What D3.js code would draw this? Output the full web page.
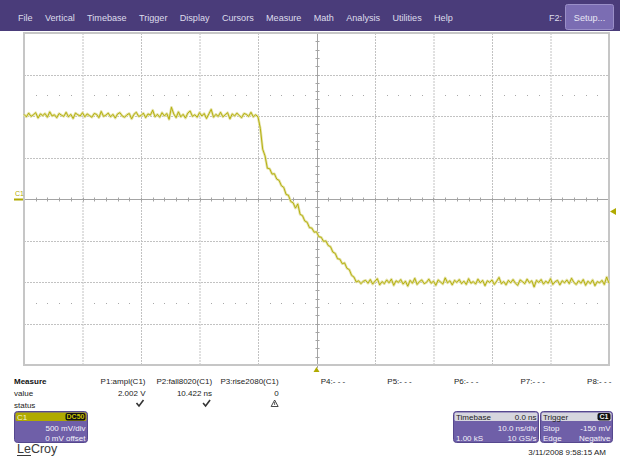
<!DOCTYPE html>
<html><head><meta charset="utf-8">
<script src="https://cdn.jsdelivr.net/npm/d3@7"></script>
<style>
body{margin:0;background:#fff;}
svg{display:block;font-family:"Liberation Sans",Arial,sans-serif;}
</style>
</head><body><svg id="c" width="620" height="462"></svg>
<script>
// ---------------- data ----------------
const menuItems = ["File","Vertical","Timebase","Trigger","Display","Cursors","Measure","Math","Analysis","Utilities","Help"];
const nsPerDiv = 10;          // timebase
const mVPerDiv = 500;         // C1 vertical scale
const tStart = -50;           // ns, first sample
const tStep = 0.4;            // ns between plotted samples
const triggerLevelMV = -150;
const triggerTimeNs = 0;
// C1 trace (mV)
const traceMV = [
 1020,990,1035,995,1015,1040,975,1025,1005,1030,985,1050,1000,1015,980,1030,1010,995,1045,990,
 1020,970,1035,1015,1000,1040,990,1025,1005,985,1030,1020,980,1055,995,1010,1035,990,1020,975,
 1025,1040,1000,985,1015,1030,965,1020,1045,995,1005,1035,980,1025,1010,1070,990,1020,985,1040,
 1000,1030,960,1105,1025,980,1050,990,1020,975,1035,1060,995,1015,985,1040,1000,1030,970,1025,
 1080,985,1020,995,1045,990,1015,1040,965,1025,1000,1035,1005,980,1030,1020,995,1045,990,1015,
 990,850,600,520,370,365,300,305,240,225,160,140,55,45,-30,-45,-110,-60,-185,-200,
 -265,-280,-345,-350,-400,-395,-455,-460,-510,-505,-560,-575,-640,-655,-720,-725,-780,-770,-835,-850,
 -920,-940,-1000,-985,-1020,-990,
 -980,-1015,-970,-1025,-990,-960,-1035,-995,-1020,-975,-1010,-965,-1040,-985,-1005,-970,-1025,-990,-1050,-980,
 -1015,-955,-1030,-995,-975,-1020,-1005,-965,-1015,-990,-1040,-975,-1000,-1025,-950,-1010,-985,-1035,-980,-1005,
 -970,-1020,-990,-1030,-960,-1015,-995,-1025,-965,-1010,-980,-1045,-985,-1005,-975,-1030,-990,-945,-1020,-995,
 -1035,-980,-1010,-970,-1015,-1040,-975,-995,-1020,-965,-1010,-985,-1060,-980,-1005,-970,-1025,-990,-1015,-960,
 -1030,-995,-980,-1035,-985,-1010,-975,-1020,-955,-1005,-1030,-985,-1015,-970,-1040,-990,-1020,-975,-1045,-995,
 -1010,-980,-1030,-940,-1015
];
const measureNames = ["P1:ampl(C1)","P2:fall8020(C1)","P3:rise2080(C1)","P4:- - -","P5:- - -","P6:- - -","P7:- - -","P8:- - -"];
const measureValues = ["2.002 V","10.422 ns","0","","","","",""];
const measureStatus = ["ok","ok","warn","","","","",""];
const channelLines = ["500 mV/div","0 mV offset"];
const timebaseRows = [["Timebase","0.0 ns"],["","10.0 ns/div"],["1.00 kS","10 GS/s"]];
const triggerRows = [["Trigger",""],["Stop","-150 mV"],["Edge","Negative"]];
const dateText = "3/11/2008 9:58:15 AM";

// ---------------- drawing ----------------
const svg = d3.select("#c");
const OLIVE = "#b0aa00", PURPLE = "#6f5fa8", BAR = "#4a3c7a";

// menu bar
svg.append("rect").attr("x",0).attr("y",0).attr("width",620).attr("height",31).attr("fill",BAR);
let mx = 18;
menuItems.forEach(m=>{
  const t = svg.append("text").attr("x",mx).attr("y",21).attr("font-size",9.1).attr("fill","#dedcec").text(m);
  mx += t.node().getComputedTextLength() + 12.3;
});
svg.append("text").attr("x",549).attr("y",21).attr("font-size",9.1).attr("fill","#dedcec").text("F2:");
svg.append("rect").attr("x",565.5).attr("y",4.5).attr("width",48).attr("height",25).attr("rx",2)
  .attr("fill","#7b6db3").attr("stroke","#9a8fc8");
svg.append("text").attr("x",589.5).attr("y",21).attr("font-size",9.1).attr("text-anchor","middle").attr("fill","#e8e6f4").text("Setup...");

// scope grid
const L=24,R=609,T=33,B=365;
const x = d3.scaleLinear().domain([-5*nsPerDiv,5*nsPerDiv]).range([L,R]);
const y = d3.scaleLinear().domain([-4*mVPerDiv,4*mVPerDiv]).range([B,T]);
const g = svg.append("g");

const xDivs = d3.range(-4,5).map(d=>d*nsPerDiv).filter(d=>d!==0);
const yDivs = d3.range(-3,4).map(d=>d*mVPerDiv).filter(d=>d!==0);
g.selectAll(".vg").data(xDivs).join("line").attr("x1",d=>x(d)+0.5).attr("x2",d=>x(d)+0.5)
  .attr("y1",T).attr("y2",B).attr("stroke","#c2c2c2").attr("stroke-dasharray","2,1");
g.selectAll(".hg").data(yDivs).join("line").attr("y1",d=>Math.round(y(d))+0.5).attr("y2",d=>Math.round(y(d))+0.5)
  .attr("x1",L).attr("x2",R).attr("stroke","#c2c2c2").attr("stroke-dasharray","2,1");

// dot rows at +/-2.5 div
const dotX = d3.range(-50,50.001,nsPerDiv/5).filter(d=>Math.abs(d%nsPerDiv)>1e-6);
[2.5,-2.5].forEach(k=>{
  g.selectAll(null).data(dotX).join("rect").attr("x",d=>Math.round(x(d))).attr("y",Math.round(y(k*mVPerDiv)))
   .attr("width",1).attr("height",1).attr("fill","#a8a8a8");
});

// center axes
const cx = Math.round(x(0))+0.5, cy = Math.round(y(0))+0.5;
g.append("line").attr("x1",cx).attr("x2",cx).attr("y1",T).attr("y2",B+3).attr("stroke","#a4a4a4");
g.append("line").attr("x1",L).attr("x2",R).attr("y1",cy).attr("y2",cy).attr("stroke","#a4a4a4");
const xt = d3.range(-50,50.001,nsPerDiv/5);
g.selectAll(null).data(xt).join("line").attr("x1",d=>Math.round(x(d))+0.5).attr("x2",d=>Math.round(x(d))+0.5)
  .attr("y1",cy-2).attr("y2",cy+2).attr("stroke","#a4a4a4");
const yt = d3.range(-2000,2000.1,mVPerDiv/5);
g.selectAll(null).data(yt).join("line").attr("y1",d=>Math.round(y(d))+0.5).attr("y2",d=>Math.round(y(d))+0.5)
  .attr("x1",cx-2).attr("x2",cx+2).attr("stroke","#a4a4a4");

// frame
g.append("rect").attr("x",L).attr("y",T).attr("width",R-L).attr("height",B-T)
  .attr("fill","none").attr("stroke","#c6c6c6").attr("stroke-width",2);

// trace
const line = d3.line().x((d,i)=>x(tStart+i*tStep)).y(d=>y(d));
g.append("path").attr("d",line(traceMV)).attr("fill","none").attr("stroke","#e4e2a8").attr("stroke-width",2.6).attr("stroke-linejoin","round");
g.append("path").attr("d",line(traceMV)).attr("fill","none").attr("stroke",OLIVE).attr("stroke-width",0.9).attr("stroke-linejoin","miter");

// channel marker left
g.append("rect").attr("x",14).attr("y",y(0)-0.5).attr("width",9).attr("height",2).attr("fill",OLIVE);
g.append("text").attr("x",15).attr("y",y(0)-3).attr("font-size",7).attr("fill",OLIVE).text("C1");
// trigger level marker right
const ty = y(triggerLevelMV);
g.append("path").attr("d",`M${R+1},${ty} L${R+7},${ty-3.5} L${R+7},${ty+3.5}Z`).attr("fill",OLIVE);
// trigger time marker bottom
const tx = x(triggerTimeNs);
g.append("path").attr("d",`M${tx},${B+2} L${tx-3},${B+7} L${tx+3},${B+7}Z`).attr("fill",OLIVE);

// measure panel
const fs = 8;
svg.append("text").attr("x",14).attr("y",384).attr("font-size",fs).attr("font-weight","bold").attr("fill","#111").text("Measure");
svg.append("text").attr("x",14).attr("y",396).attr("font-size",fs).attr("fill","#222").text("value");
svg.append("text").attr("x",14).attr("y",407.5).attr("font-size",fs).attr("fill","#222").text("status");
const colX = d3.scaleLinear().domain([0,7]).range([145.5,611.5]);
measureNames.forEach((n,i)=>{
  svg.append("text").attr("x",colX(i)).attr("y",384).attr("font-size",fs).attr("text-anchor","end").attr("fill","#222").text(n);
  if(measureValues[i]) svg.append("text").attr("x",colX(i)).attr("y",396).attr("font-size",fs).attr("text-anchor","end").attr("fill","#222").text(measureValues[i]);
  const sx = colX(i)-5;
  if(measureStatus[i]==="ok"){
    svg.append("path").attr("d",`M${sx-4},${403} L${sx-1.5},${406} L${sx+3},${400}`).attr("fill","none").attr("stroke","#333").attr("stroke-width",1.6);
  } else if(measureStatus[i]==="warn"){
    svg.append("path").attr("d",`M${sx+1},${400} L${sx+4.5},${406.5} L${sx-2.5},${406.5}Z`).attr("fill","none").attr("stroke","#333").attr("stroke-width",0.9);
    svg.append("line").attr("x1",sx+1).attr("x2",sx+1).attr("y1",402).attr("y2",405).attr("stroke","#333").attr("stroke-width",0.8);
  }
});

// helper for info boxes
function box(x0,w,headerFill,rows,headerText){
  const gg = svg.append("g");
  gg.append("rect").attr("x",x0+0.5).attr("y",411.5).attr("width",w).attr("height",31).attr("rx",3)
    .attr("fill",PURPLE).attr("stroke","#56488e");
  gg.append("rect").attr("x",x0+1.5).attr("y",412.5).attr("width",w-2).attr("height",8.5).attr("rx",1.5).attr("fill",headerFill);
  rows.forEach((r,i)=>{
    const yy = [419.5,430.5,440.5][i];
    const col = i===0 ? headerText : "#f4f2fa";
    if(r[0]) gg.append("text").attr("x",x0+3).attr("y",yy).attr("font-size",fs).attr("fill",col).text(r[0]);
    if(r[1]) gg.append("text").attr("x",x0+w-1.5).attr("y",yy).attr("font-size",fs).attr("text-anchor","end").attr("fill",col).text(r[1]);
  });
  return gg;
}
// C1 box
const c1 = box(14,73,OLIVE,[["C1",""],["",channelLines[0]],["",channelLines[1]]],"#f4f2d0");
c1.append("rect").attr("x",65.5).attr("y",413).attr("width",20).attr("height",7.5).attr("rx",2).attr("fill","#111");
c1.append("text").attr("x",75.5).attr("y",419.3).attr("font-size",7).attr("font-weight","bold").attr("text-anchor","middle").attr("fill","#c9c200").text("DC50");
// timebase & trigger boxes
box(453,85,"#d6d6de",timebaseRows,"#222");
const trg = box(540,72,"#d6d6de",triggerRows,"#222");
trg.append("rect").attr("x",597.5).attr("y",413).attr("width",13).attr("height",7.5).attr("rx",2).attr("fill","#111");
trg.append("text").attr("x",604).attr("y",419.3).attr("font-size",7).attr("font-weight","bold").attr("text-anchor","middle").attr("fill","#eee").text("C1");

// logo & date
svg.append("text").attr("x",17).attr("y",453).attr("font-size",12.5).attr("fill","#3a3a3a").text("LeCroy");
svg.append("line").attr("x1",17).attr("x2",31).attr("y1",455.5).attr("y2",455.5).attr("stroke","#3a3a3a").attr("stroke-width",1);
svg.append("text").attr("x",606).attr("y",455).attr("font-size",fs).attr("text-anchor","end").attr("fill","#222").text(dateText);
</script></body></html>
